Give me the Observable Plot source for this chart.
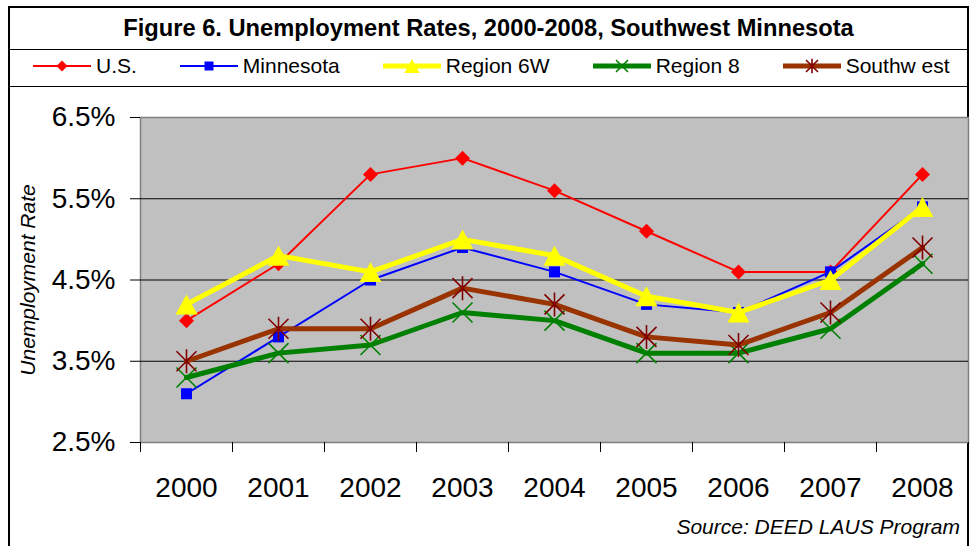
<!DOCTYPE html>
<html>
<head>
<meta charset="utf-8">
<script src="https://cdn.jsdelivr.net/npm/d3@7"></script>
<script src="https://cdn.jsdelivr.net/npm/@observablehq/plot@0.6"></script>
<style>
  html, body { margin: 0; padding: 0; background: #fff; overflow: hidden; }
  body { width: 971px; height: 546px; position: relative; font-family: "Liberation Sans", Arial, sans-serif; color: #000; }
  #frame { position: absolute; left: 8px; top: 6px; width: 957px; height: 600px; border: 2px solid #000; }
  #title { position: absolute; left: 10px; top: 8px; width: 957px; height: 41px; border-bottom: 1px solid #000;
           text-align: center; font-weight: bold; font-size: 23.7px; line-height: 41px; white-space: nowrap; }
  #legend { position: absolute; left: 10px; top: 50px; width: 957px; height: 37px; box-sizing: border-box;
            border-bottom: 1px solid #000; display: flex; align-items: center; padding: 0 0 5px 23px; gap: 43px; font-size: 21px; }
  .item { display: flex; align-items: center; white-space: nowrap; }
  .item svg { margin-right: 5px; }
  #chart { position: absolute; left: 0; top: 88px; }
  #source { position: absolute; right: 11px; top: 516px; font-size: 21px; line-height: 21px; font-style: italic; white-space: nowrap; }
</style>
</head>
<body>
<div id="frame"></div>
<div id="title">Figure 6. Unemployment Rates, 2000-2008, Southwest Minnesota</div>
<div id="legend"></div>
<div id="chart"></div>
<div id="source">Source: DEED LAUS Program</div>
<script>
// ---- data ----
const years = [2000, 2001, 2002, 2003, 2004, 2005, 2006, 2007, 2008];
const seriesNames = ["U.S.", "Minnesota", "Region 6W", "Region 8", "Southw est"];
const usValues = [4.0, 4.7, 5.8, 6.0, 5.6, 5.1, 4.6, 4.6, 5.8];
const mnValues = [3.1, 3.8, 4.5, 4.9, 4.6, 4.2, 4.1, 4.6, 5.4];
const r6wValues = [4.2, 4.8, 4.6, 5.0, 4.8, 4.3, 4.1, 4.5, 5.4];
const r8Values = [3.3, 3.6, 3.7, 4.1, 4.0, 3.6, 3.6, 3.9, 4.7];
const swValues = [3.5, 3.9, 3.9, 4.4, 4.2, 3.8, 3.7, 4.1, 4.9];
const yTicks = [2.5, 3.5, 4.5, 5.5, 6.5];

// ---- symbols ----
const rad = s => Math.sqrt(s / Math.PI);
const diamondSym = {draw(c, s) { const r = rad(s); c.moveTo(0, -r); c.lineTo(r, 0); c.lineTo(0, r); c.lineTo(-r, 0); c.closePath(); }};
const squareSym = {draw(c, s) { const r = rad(s); c.rect(-r, -r, 2 * r, 2 * r); }};
const triSym = {draw(c, s) { const r = rad(s); c.moveTo(0, -r); c.lineTo(1.1 * r, r); c.lineTo(-1.1 * r, r); c.closePath(); }};
const timesSym = {draw(c, s) { const r = rad(s); c.moveTo(-r, -r); c.lineTo(r, r); c.moveTo(-r, r); c.lineTo(r, -r); }};
const astSym = {draw(c, s) { const r = rad(s); c.moveTo(-r, -r); c.lineTo(r, r); c.moveTo(-r, r); c.lineTo(r, -r); c.moveTo(0, -r * 1.2); c.lineTo(0, r * 1.2); }};

const allValues = [usValues, mnValues, r6wValues, r8Values, swValues];
const styles = [
  {line: "#FF0000", lw: 2, sym: diamondSym, r: 7.5, fill: "#FF0000", stroke: "none", sw: 0, lr: 5.5},
  {line: "#0000FF", lw: 2, sym: squareSym, r: 5.5, fill: "#0000FF", stroke: "none", sw: 0, lr: 4.5},
  {line: "#FFFF00", lw: 5, sym: triSym, r: 10, fill: "#FFFF00", stroke: "none", sw: 0, lr: 7},
  {line: "#008000", lw: 5, sym: timesSym, r: 10, fill: "none", stroke: "#008000", sw: 1.6, lr: 6},
  {line: "#993300", lw: 5, sym: astSym, r: 10, fill: "none", stroke: "#800000", sw: 1.6, lr: 6}
];

const tables = seriesNames.map((name, i) => years.map((year, j) => ({series: name, year, value: allValues[i][j]})));
const bounds = [...years.map(y => y - 0.5), years[years.length - 1] + 0.5];

const seriesMarks = [];
tables.forEach((rows, i) => {
  const st = styles[i];
  seriesMarks.push(Plot.line(rows, {x: "year", y: "value", stroke: st.line, strokeWidth: st.lw, strokeLinejoin: "miter"}));
  seriesMarks.push(Plot.dot(rows, {x: "year", y: "value", symbol: st.sym, r: st.r, fill: st.fill, stroke: st.stroke, strokeWidth: st.sw}));
});

const chart = Plot.plot({
  width: 971,
  height: 458,
  marginLeft: 140,
  marginRight: 3,
  marginTop: 29,
  marginBottom: 104,
  x: {type: "linear", domain: [bounds[0], bounds[bounds.length - 1]], label: null},
  y: {domain: [yTicks[0], yTicks[yTicks.length - 1]], label: null},
  style: {fontFamily: '"Liberation Sans", Arial, sans-serif', color: "#000", background: "transparent", overflow: "visible"},
  marks: [
    Plot.frame({fill: "#C0C0C0", stroke: "#808080", strokeWidth: 1.5}),
    Plot.ruleY(yTicks.slice(1, -1), {stroke: "#000", strokeWidth: 1}),
    Plot.axisY({ticks: yTicks, tickFormat: d => d.toFixed(1) + "%", tickSize: 10, tickPadding: 15, fontSize: 28, label: null}),
    Plot.axisX({ticks: bounds, tickFormat: () => "", tickSize: 10, label: null}),
    Plot.axisX({ticks: years, tickFormat: d3.format("d"), tickSize: 0, tickPadding: 35, fontSize: 28, label: null}),
    ...seriesMarks,
    Plot.text(["Unemployment Rate"], {frameAnchor: "left", textAnchor: "middle", dx: -112, rotate: -90, fontSize: 21, fontStyle: "italic"})
  ]
});
document.getElementById("chart").appendChild(chart);

// ---- legend ----
const legend = d3.select("#legend");
seriesNames.forEach((name, i) => {
  const st = styles[i];
  const item = legend.append("div").attr("class", "item");
  const svg = item.append("svg").attr("width", 58).attr("height", 20);
  svg.append("line").attr("x1", 0).attr("x2", 58).attr("y1", 10).attr("y2", 10)
    .attr("stroke", st.line).attr("stroke-width", st.lw);
  svg.append("path").attr("transform", "translate(29,10)")
    .attr("d", d3.symbol(st.sym, st.lr * st.lr * Math.PI)())
    .attr("fill", st.fill).attr("stroke", st.stroke).attr("stroke-width", st.sw);
  item.append("span").text(name);
});
</script>
</body>
</html>
